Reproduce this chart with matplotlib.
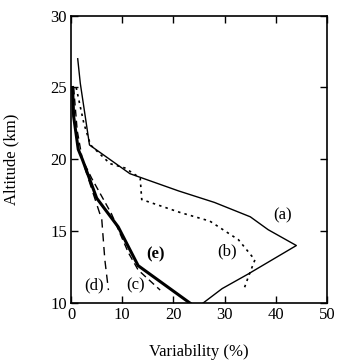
import matplotlib
matplotlib.use('Agg')
import matplotlib.pyplot as plt

plt.rcParams['font.family'] = ['Liberation Serif', 'DejaVu Serif']
plt.rcParams['mathtext.fontset'] = 'stix'

# curves: variability (%) vs altitude (km)
a_var = [1.3, 1.8, 3.6, 11.5, 21.0, 28.0, 35.0, 38.5, 44.0, 34.5, 29.5, 25.8]
a_alt = [27.0, 25.3, 21.0, 19.0, 17.8, 17.0, 16.0, 15.1, 14.0, 12.0, 11.0, 10.0]

b_var = [1.0, 2.5, 3.8, 7.6, 10.5, 13.5, 13.8, 21.3, 27.1, 32.7, 35.9, 34.6, 33.7]
b_alt = [25.0, 22.5, 21.0, 19.7, 19.4, 18.7, 17.2, 16.3, 15.7, 14.4, 13.0, 11.8, 10.9]

c_var = [0.5, 1.2, 2.2, 4.0, 7.9, 11.2, 13.1, 17.4]
c_alt = [25.0, 22.0, 20.0, 18.7, 16.2, 13.5, 12.3, 10.9]

d_var = [2.6, 3.7, 6.0, 6.6, 7.3]
d_alt = [19.5, 18.3, 15.8, 13.0, 10.9]

e_var = [0.3, 0.5, 1.4, 2.2, 5.0, 9.2, 13.1, 23.2]
e_alt = [25.0, 23.0, 20.7, 20.0, 17.3, 15.3, 12.6, 10.0]

fig = plt.figure(figsize=(3.4, 3.64), dpi=100)
ax = fig.add_axes([0.209, 0.1676, 0.753, 0.7894])

ax.plot(a_var, a_alt, color='black', lw=1.0)
ax.plot(b_var, b_alt, color='black', lw=1.2, linestyle=(0, (1.5, 2.5)))
ax.plot(c_var, c_alt, color='black', lw=1.0, linestyle=(0, (5, 3)))
ax.plot(d_var, d_alt, color='black', lw=1.0, linestyle=(0, (6, 4)))
ax.plot(e_var, e_alt, color='black', lw=2.2)

ax.text(41.4, 16.1, '(a)', fontsize=12, ha='center', va='center')
ax.text(30.4, 13.6, '(b)', fontsize=12, ha='center', va='center')
ax.text(12.5, 11.2, '(c)', fontsize=12, ha='center', va='center')
ax.text(4.4, 11.2, '(d)', fontsize=12, ha='center', va='center')
ax.text(16.4, 13.35, '(e)', fontsize=12, ha='center', va='center', fontweight='bold')

ax.set_xlim(0, 50)
ax.set_ylim(10, 30)
ax.set_xticks([0, 10, 20, 30, 40, 50])
ax.set_yticks([10, 15, 20, 25, 30])
ax.tick_params(direction='in', length=5, width=1, top=True, right=True, labelsize=12, pad=3)
for s in ax.spines.values():
    s.set_linewidth(1.2)

ax.set_xlabel('Variability (%)', fontsize=12, labelpad=15)
ax.set_ylabel('Altitude (km)', fontsize=12, labelpad=22)

fig.savefig('out.png', dpi=100)
